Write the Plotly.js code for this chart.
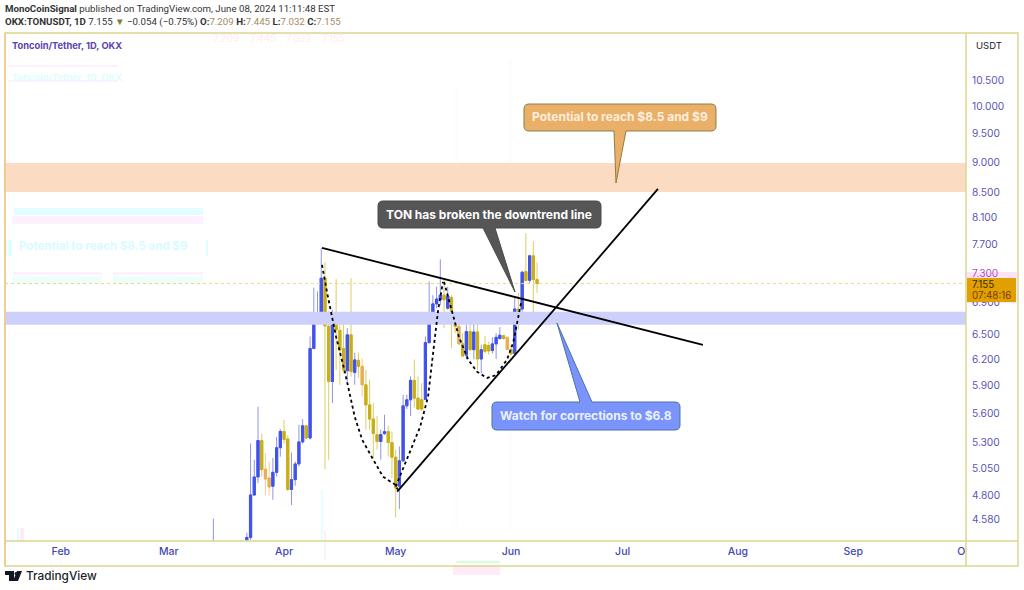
<!DOCTYPE html>
<html><head><meta charset="utf-8">
<script src="https://cdn.plot.ly/plotly-3.0.1.min.js"></script>
<style>html,body{margin:0;padding:0;background:#fff}#c{width:1024px;height:590px}</style>
</head><body><div id="c"></div>
<script>
// ---------- data ----------
const dates = ["2024-03-13","2024-03-22","2024-03-23","2024-03-24","2024-03-25","2024-03-26","2024-03-27","2024-03-28","2024-03-29","2024-03-30","2024-03-31",
"2024-04-01","2024-04-02","2024-04-03","2024-04-04","2024-04-05","2024-04-06","2024-04-07","2024-04-08","2024-04-09","2024-04-10","2024-04-11","2024-04-12","2024-04-13","2024-04-14","2024-04-15","2024-04-16","2024-04-17","2024-04-18","2024-04-19","2024-04-20","2024-04-21","2024-04-22","2024-04-23","2024-04-24","2024-04-25","2024-04-26","2024-04-27","2024-04-28","2024-04-29","2024-04-30",
"2024-05-01","2024-05-02","2024-05-03","2024-05-04","2024-05-05","2024-05-06","2024-05-07","2024-05-08","2024-05-09","2024-05-10","2024-05-11","2024-05-12","2024-05-13","2024-05-14","2024-05-15","2024-05-16","2024-05-17","2024-05-18","2024-05-19","2024-05-20","2024-05-21","2024-05-22","2024-05-23","2024-05-24","2024-05-25","2024-05-26","2024-05-27","2024-05-28","2024-05-29","2024-05-30","2024-05-31",
"2024-06-01","2024-06-02","2024-06-03","2024-06-04","2024-06-05","2024-06-06","2024-06-07","2024-06-08"];
const opens = [4.2,4.41,4.43,4.80,4.966,5.32,5.04,4.957,4.88,5.01,5.248,
5.412,5.335,4.85,4.941,5.09,5.306,5.47,5.345,6.33,6.70,6.766,7.228,6.60,5.947,6.766,6.55,6.33,6.07,6.495,6.05,6.19,6.12,5.91,5.69,5.54,5.38,5.31,5.39,5.41,5.30,
5.155,4.88,5.12,5.68,5.745,5.96,5.763,5.745,5.75,6.40,6.755,6.886,6.94,7.0,6.83,6.97,6.745,6.6,6.385,6.25,6.535,6.315,6.53,6.205,6.375,6.365,6.305,6.385,6.45,6.485,6.465,
6.32,6.27,6.82,6.82,7.32,7.2,7.54,7.209];
const highs = [4.59,4.47,5.29,5.13,5.67,5.39,5.195,5.114,5.146,5.355,5.436,
5.53,5.37,5.2,5.114,5.48,5.54,5.48,6.475,7.10,7.05,7.65,7.45,6.79,6.81,7.215,6.72,6.67,6.577,7.228,6.28,6.28,6.215,6.08,5.966,5.71,5.57,5.43,5.585,5.47,5.41,
5.23,5.26,5.80,5.80,6.005,6.20,6.005,5.93,6.474,7.185,7.0,7.115,7.49,7.205,7.115,7.0,6.766,6.62,6.515,6.62,6.70,6.70,6.715,6.375,6.48,6.415,6.465,6.515,6.59,6.495,6.474,
6.375,6.98,7.03,7.33,7.87,7.555,7.75,7.445];
const lows = [4.1,4.40,4.41,4.79,4.91,4.97,4.80,4.795,4.757,4.97,5.16,
5.29,4.835,4.71,4.885,5.065,5.29,5.33,5.33,6.32,6.68,6.745,5.04,5.13,5.71,6.08,5.91,6.04,5.947,6.00,5.91,5.985,5.78,5.43,5.43,5.145,5.23,5.13,5.375,5.16,4.957,
4.60,4.675,5.11,5.645,5.57,5.66,5.64,5.625,5.74,6.39,6.74,6.83,6.87,6.577,6.81,6.335,6.515,6.37,6.23,6.20,6.295,6.20,6.08,6.04,6.27,6.255,6.27,6.205,6.435,6.435,6.315,
6.255,6.255,6.56,6.70,7.19,7.16,6.61,7.032];
const closes = [4.3,4.43,4.80,4.966,5.32,5.035,4.947,4.873,5.01,5.248,5.412,
5.33,4.85,4.941,5.09,5.306,5.47,5.345,6.33,6.70,6.766,7.228,6.606,5.947,6.766,6.556,6.31,6.08,6.495,6.06,6.195,6.12,5.91,5.69,5.54,5.39,5.31,5.38,5.41,5.30,5.155,
4.864,5.12,5.68,5.745,5.96,5.763,5.645,5.645,6.40,6.766,6.886,6.95,7.0,6.94,6.99,6.73,6.6,6.385,6.24,6.535,6.315,6.53,6.205,6.315,6.295,6.30,6.385,6.465,6.49,6.45,6.32,
6.265,6.82,6.70,7.31,7.195,7.54,7.209,7.155];
const orangeDays = ["2024-03-27","2024-03-28","2024-04-22","2024-05-18","2024-05-31"];

const tickPrices = [10.5,10,9.5,9,8.5,8.1,7.7,7.3,6.9,6.5,6.2,5.9,5.6,5.3,5.05,4.8,4.58];
const tickLabels = ["10.500","10.000","9.500","9.000","8.500","8.100","7.700",'<span style="color:#b04fc0">7.300</span>',"6.900","6.500","6.200","5.900","5.600","5.300","5.050","4.800","4.580"];
const monthTicks = ["2024-02-01","2024-03-01","2024-04-01","2024-05-01","2024-06-01","2024-07-01","2024-08-01","2024-09-01","2024-09-30"];
const monthLabels = ["Feb","Mar","Apr","May","Jun","Jul","Aug","Sep","O"];

const viewStart = "2024-01-17", viewEnd = "2024-10-01 07:00";
const targetZone = [8.507, 8.985];
const correctionZone = [6.619, 6.783];
const lastPrice = 7.155;

const downtrendX = ["2024-04-11 05:00","2024-07-22 14:00"], downtrendY = [7.654,6.373];
const uptrendX = ["2024-05-01 10:00","2024-07-10 12:00"], uptrendY = [4.83,8.555];
const cupX = ["2024-04-11 05:00","2024-04-12 14:00","2024-04-15","2024-04-17 10:00","2024-04-20","2024-04-22","2024-04-25","2024-04-27 14:00","2024-04-30 20:00","2024-05-01 14:00"];
const cupY = [7.412,7.03,6.47,6.044,5.564,5.327,5.13,4.969,4.895,4.849];
const riseX = ["2024-05-01","2024-05-04","2024-05-07 14:00","2024-05-09 17:00","2024-05-11","2024-05-12 10:00","2024-05-13 17:00"];
const riseY = [4.876,5.13,5.46,5.78,6.277,6.81,7.178];
const handleX = ["2024-05-14","2024-05-16","2024-05-18","2024-05-20 12:00","2024-05-22 22:00","2024-05-25 14:00","2024-05-28","2024-05-30 22:00","2024-06-01 14:00","2024-06-03 17:00"];
const handleY = [7.178,6.81,6.47,6.197,6.056,5.987,6.02,6.197,6.397,6.9];

// ---------- build ----------
const FONT = "Inter, 'Noto Sans', sans-serif";
const HEAD = "Roboto, 'Noto Sans', sans-serif";
const W=1024,H=590,L=5,R=966,T=34,B=541;
const px=x=>(x-L)/(R-L), py=y=>(B-y)/(B-T);
function pick(test){
  const idx=dates.map((d,i)=>i).filter(i=>test(i));
  return {x:idx.map(i=>dates[i]),open:idx.map(i=>opens[i]),high:idx.map(i=>highs[i]),low:idx.map(i=>lows[i]),close:idx.map(i=>closes[i])};
}
const isOrange=i=>orangeDays.includes(dates[i]);
function candle(sub,color,fill,width){
  const side={line:{color,width:width},fillcolor:fill};
  return Object.assign({type:'candlestick',increasing:side,decreasing:side,whiskerwidth:0,hoverinfo:'skip',showlegend:false},sub);
}
function wicks(sub,color){ return candle(sub,color,'rgba(0,0,0,0)',1); }
function bodies(sub,color){
  const s=Object.assign({},sub,{high:sub.open.map((o,i)=>Math.max(o,sub.close[i])),low:sub.open.map((o,i)=>Math.min(o,sub.close[i]))});
  return candle(s,color,color,1);
}
function band(z,color){
  return {type:'scatter',mode:'lines',x:[viewStart,viewEnd,viewEnd,viewStart],y:[z[0],z[0],z[1],z[1]],fill:'toself',fillcolor:color,line:{width:0},hoverinfo:'skip',showlegend:false};
}
function line(x,y,color,width,dash){
  return {type:'scatter',mode:'lines',x,y,line:{color,width,dash:dash||'solid'},hoverinfo:'skip',showlegend:false};
}
const up=pick(i=>closes[i]>=opens[i]), gold=pick(i=>closes[i]<opens[i]&&!isOrange(i)), orange=pick(i=>closes[i]<opens[i]&&isOrange(i));
const traces=[
  band(targetZone,'#fbdcc3'),
  band(correctionZone,'#cdd0fb'),
  line([viewStart,viewEnd],[lastPrice,lastPrice],'#efd57a',1,'dot'),
  wicks(up,'#8f94ea'), wicks(gold,'#dccd62'), wicks(orange,'#f4cc94'),
  bodies(up,'#4052ec'), bodies(gold,'#c9ae18'), bodies(orange,'#e9ae52'),
  line(cupX,cupY,'#000',1.8,'dot'),
  line(riseX,riseY,'#000',1.8,'dot'),
  line(handleX,handleY,'#000',1.8,'dot'),
  line(downtrendX,downtrendY,'#000',1.8),
  line(uptrendX,uptrendY,'#000',1.8)
];
function P(x,y){return px(x).toFixed(5)+','+py(y).toFixed(5);}
function callout(x0,y0,x1,y1,r,edge,a,b,tx,ty){
  let d='M'+P(x0+r,y0);
  if(edge==='top'){d+=' L'+P(a,y0)+' L'+P(tx,ty)+' L'+P(b,y0);}
  d+=' L'+P(x1-r,y0)+' Q'+P(x1,y0)+' '+P(x1,y0+r)+' L'+P(x1,y1-r)+' Q'+P(x1,y1)+' '+P(x1-r,y1);
  if(edge==='bottom'){d+=' L'+P(b,y1)+' L'+P(tx,ty)+' L'+P(a,y1);}
  d+=' L'+P(x0+r,y1)+' Q'+P(x0,y1)+' '+P(x0,y1-r)+' L'+P(x0,y0+r)+' Q'+P(x0,y0)+' '+P(x0+r,y0)+' Z';
  return d;
}
function pshape(path,fill,stroke,w,layer){
  return {type:'path',xref:'paper',yref:'paper',path,fillcolor:fill,line:{color:stroke||fill,width:stroke?(w||1):0},layer:layer||'above'};
}
function rect(x0,y0,x1,y1,fill,stroke,w,layer){
  return {type:'rect',xref:'paper',yref:'paper',x0:px(x0),x1:px(x1),y0:py(y1),y1:py(y0),fillcolor:fill||'rgba(0,0,0,0)',line:{color:stroke||fill,width:stroke?(w||1):0},layer:layer||'above'};
}
const FR='#dcd68c';
const ghost=(a,b,c,d,col)=>rect(a,b,c,d,col,null,0,'below');
const shapes=[
  ghost(14,208,203,215,'#e2fdff'),
  ghost(12,216,203,224,'#fff0fd'),
  ghost(8,240,12,256,'#e2fdff'),
  ghost(206,240,208,256,'#e2fdff'),
  ghost(13,272,102,275,'#fff0fd'),
  ghost(113,272,203,275,'#fff0fd'),
  ghost(13,276,102,284,'#edfffb'),
  ghost(113,276,203,284,'#edfffb'),
  ghost(8,65,118,67,'#fff0fd'),
  ghost(8,80,118,82,'#fff0fd'),
  ghost(453,565,500,575,'#ffeaf8'),
  ghost(456,561,500,563,'#d8ffdc'),
  ghost(17,528,19,541,'#e2fdff'),ghost(20,528,24,541,'#ffeafa'),
  ghost(321,490,323,541,'#e8fdff'),ghost(324,530,326,560,'#ffeefb'),
  ghost(453,90,455,190,'#f9feff'),ghost(456,90,458,190,'#fffafe'),
  ghost(453,430,455,530,'#f9feff'),ghost(456,430,458,530,'#fffafe'),
  ghost(507,60,509,190,'#f9feff'),ghost(510,60,512,190,'#fffafe'),
  ghost(507,430,509,530,'#f9feff'),ghost(510,430,512,530,'#fffafe'),
  rect(966,272,1017,303,'#fde3f8',null,0,'below'),
  rect(5,33,1018,566,null,FR,1.5),
  {type:'line',xref:'paper',yref:'paper',x0:px(5),x1:px(5),y0:py(33),y1:py(566),line:{color:'#f5c888',width:1.5},layer:'above'},
  {type:'line',xref:'paper',yref:'paper',x0:px(966),x1:px(966),y0:py(33),y1:py(566),line:{color:FR,width:1.5},layer:'above'},
  {type:'line',xref:'paper',yref:'paper',x0:px(5),x1:px(1018),y0:py(541),y1:py(541),line:{color:FR,width:1.5},layer:'above'},
  rect(967,278,1016,302,'#e0a000',null,0,'above'),
  pshape(callout(524,104,716,131,5,'bottom',614,626,616,183),'#eab06a','#8a7f45',1),
  pshape(callout(378,201,601,228,5,'bottom',483,495,515,292),'#565656','#4a4a4a',1),
  pshape(callout(492,402,680,430,5,'top',580,592,557,323),'#7a94fb','#4c72a8',1),
  pshape('M'+P(5,571)+' L'+P(14,571)+' L'+P(14,581)+' L'+P(9,581)+' L'+P(9,575)+' L'+P(5,575)+' Z','#131722'),
  pshape('M'+P(17,571)+' L'+P(22,571)+' L'+P(18,581)+' L'+P(13,581)+' Z','#131722'),
  {type:'circle',xref:'paper',yref:'paper',x0:px(14.5),x1:px(17.5),y0:py(575),y1:py(572),fillcolor:'#131722',line:{width:0},layer:'above'}
];
function note(x,y,text,size,color,opt){
  return Object.assign({xref:'paper',yref:'paper',x:px(x),y:py(y),text,showarrow:false,xanchor:'left',yanchor:'middle',align:'left',font:{family:FONT,size,color},captureevents:false},opt||{});
}
const B_=s=>'<b>'+s+'</b>', V=s=>'<span style="color:#a88a62">'+s+'</span>';
const annotations=[
  note(3,9,B_('MonoCoinSignal')+' published on TradingView.com, June 08, 2024 11:11:48 EST',9.7,'#333',{font:{family:HEAD,size:9.7,color:'#333'}}),
  note(3,22,B_('OKX:TONUSDT, 1D')+' 7.155 <span style="color:#8a7a3a">▼</span> −0.054 (−0.75%) '+B_('O:')+V('7.209')+' '+B_('H:')+V('7.445')+' '+B_('L:')+V('7.032')+' '+B_('C:')+V('7.155'),9.7,'#333',{font:{family:HEAD,size:9.7,color:'#333'}}),
  note(10,45.5,B_('Toncoin/Tether, 1D, OKX'),9.3,'#5a44b0'),
  note(211,38,'7.209',10,'#ffeafa'),note(248,38,'7.445',10,'#ffeafa'),note(284,38,'7.032',10,'#ffeafa'),note(320,38,'7.155',10,'#ffeafa'),
  note(10,77,B_('Toncoin/Tether, 1D, OKX'),9.3,'#e0fdff'),
  note(17,246,B_('Potential to reach $8.5 and $9'),11.5,'#d8fbff'),
  note(974,45,'USDT',9.5,'#222'),
  note(970,284.5,'7.155',9.8,'#3a2a00'),
  note(970,295,'07:48:16',9.8,'#7a3c00'),
  note(24,576,'TradingView',11.8,'#1a1e28',{font:{family:FONT,size:11.8,color:'#1a1e28',weight:500}}),
  note(620,117,B_('Potential to reach $8.5 and $9'),12,'#fdeedd',{xanchor:'center',align:'center'}),
  note(489.5,214,B_('TON has broken the downtrend line'),12,'#fff',{xanchor:'center',align:'center'}),
  note(586,415,B_('Watch for corrections to $6.8'),12,'#eaf2ff',{xanchor:'center',align:'center'})
];
const layout={
  width:W,height:H,autosize:false,
  margin:{l:L,r:W-R,t:T,b:H-B,pad:0},
  paper_bgcolor:'#fff',plot_bgcolor:'#fff',showlegend:false,
  boxmode:'overlay',boxgap:0.15,hovermode:false,dragmode:false,
  font:{family:FONT},
  xaxis:{type:'date',range:[viewStart,viewEnd],rangeslider:{visible:false},tickmode:'array',tickvals:monthTicks,ticktext:monthLabels,
    tickangle:0,showgrid:false,zeroline:false,showline:false,ticks:'',ticklen:0,ticklabelstandoff:2,tickfont:{family:FONT,size:10.5,color:'#3f48b4',weight:500}},
  yaxis:{type:'log',side:'right',range:[0.6435,1.0593],tickmode:'array',tickvals:tickPrices,ticktext:tickLabels,
    showgrid:false,zeroline:false,showline:false,ticks:'',ticklabelstandoff:5,tickfont:{family:FONT,size:10.2,color:'#5a55b8'}},
  shapes,annotations
};
Plotly.newPlot('c',traces,layout,{displayModeBar:false,staticPlot:true});
</script></body></html>
